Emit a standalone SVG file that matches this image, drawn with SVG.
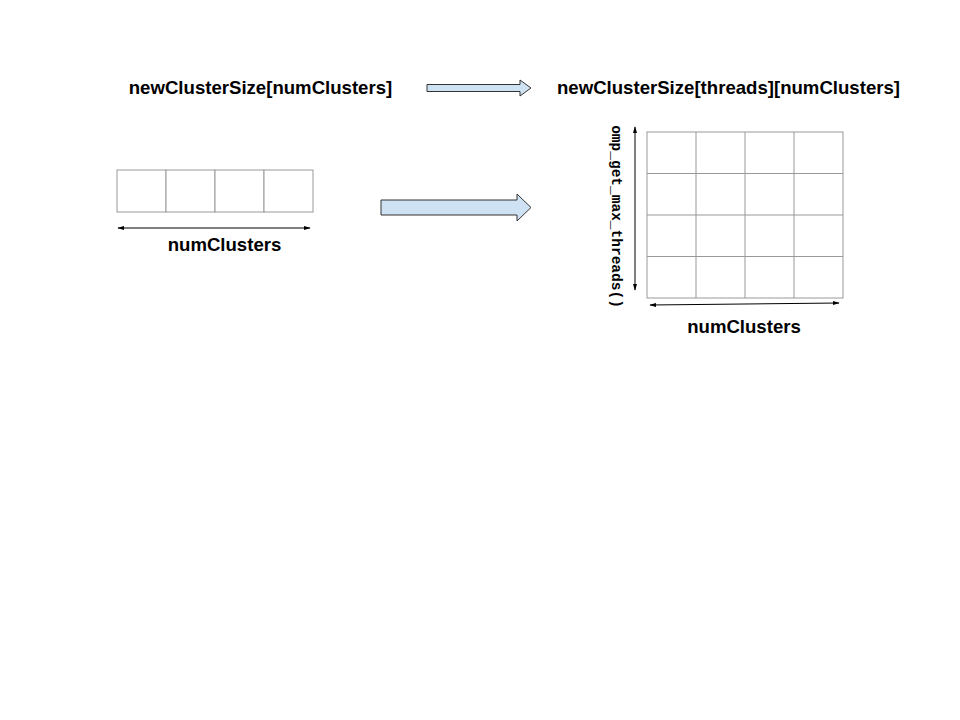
<svg xmlns="http://www.w3.org/2000/svg" width="960" height="720" viewBox="0 0 960 720">
<style>
.t{font-family:"Liberation Sans",Arial,sans-serif;font-weight:bold;font-size:18.6px;fill:#000}
.m{font-family:"Liberation Mono","Courier New",monospace;font-weight:bold;font-size:14.5px;fill:#000}
.cell{fill:#fff;stroke:#999;stroke-width:1}
.blk{fill:#cfe2f3;stroke:#333;stroke-width:1}
.dim{stroke:#000;stroke-width:1;fill:none;marker-start:url(#a);marker-end:url(#a)}
</style>
<defs>
<marker id="a" viewBox="0 0 10 10" refX="9" refY="5" markerWidth="7" markerHeight="7" orient="auto-start-reverse" markerUnits="userSpaceOnUse"><path d="M0,2 L10,5 L0,8 z" fill="#000"/></marker>
</defs>
<rect width="960" height="720" fill="#fff"/>
<g id="title-left"><text class="t" x="260.5" y="94" text-anchor="middle">newClusterSize[numClusters]</text></g>
<g id="title-right"><text class="t" x="728.5" y="94" text-anchor="middle">newClusterSize[threads][numClusters]</text></g>
<g id="arrow-top"><path class="blk" d="M427,84.5 L520,84.5 L520,80 L531,88 L520,96 L520,91.5 L427,91.5 z"/></g>
<g id="arrow-mid"><path class="blk" d="M381,200 L517,200 L517,194 L531,207.5 L517,221 L517,215 L381,215 z"/></g>
<g id="grid-left">
<rect class="cell" x="117" y="170" width="49" height="42"/>
<rect class="cell" x="166" y="170" width="49" height="42"/>
<rect class="cell" x="215" y="170" width="49" height="42"/>
<rect class="cell" x="264" y="170" width="49" height="42"/>
</g>
<g id="grid-right">
<rect class="cell" x="647" y="132" width="196" height="166"/>
<path stroke="#999" stroke-width="1" d="M696,132V298M745,132V298M794,132V298M647,173.5H843M647,215H843M647,256.5H843"/>
</g>
<g id="connectors">
<line class="dim" x1="118" y1="228" x2="310" y2="228"/>
<line class="dim" x1="635" y1="127" x2="635" y2="290"/>
<line class="dim" x1="650" y1="305" x2="839" y2="303"/>
</g>
<g id="label-left"><text class="t" x="224.5" y="251" text-anchor="middle">numClusters</text></g>
<g id="label-right"><text class="t" x="744" y="333" text-anchor="middle">numClusters</text></g>
<g id="label-threads"><text class="m" transform="translate(612,216.5) rotate(90)" text-anchor="middle">omp_get_max_threads()</text></g>
</svg>
